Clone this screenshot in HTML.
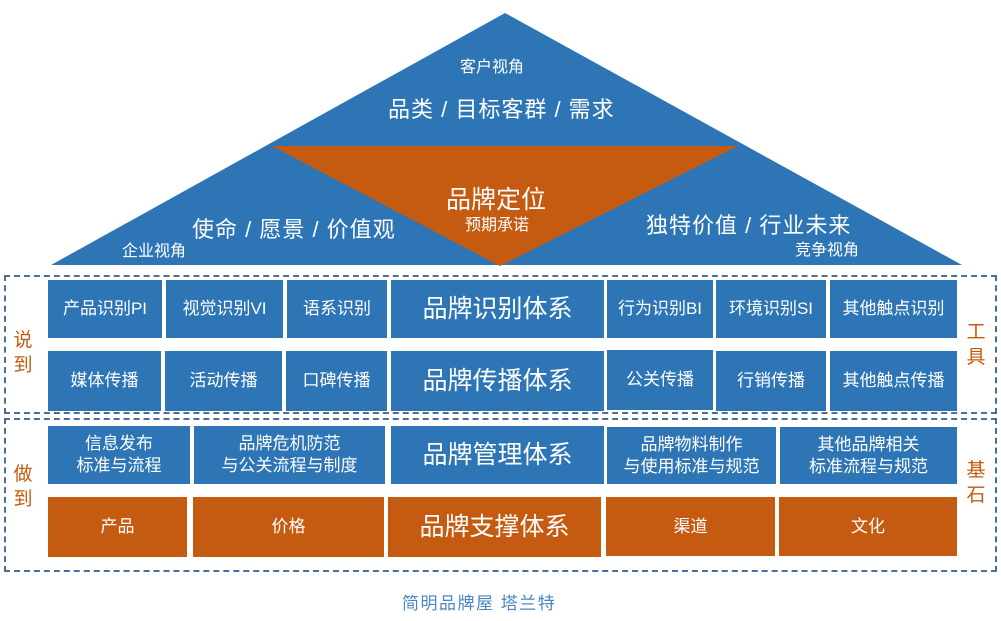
<!DOCTYPE html>
<html><head><meta charset="utf-8"><style>
body{margin:0;width:1001px;height:621px;background:#fff;position:relative;overflow:hidden;font-family:"Liberation Sans","Noto Sans CJK SC",sans-serif}
.b{position:absolute;background:#2e75b6;color:#fff;display:flex;align-items:center;justify-content:center;text-align:center;font-size:17px;line-height:22px}
.o{background:#c55a11}
.big{font-size:25px}
.t{position:absolute;color:#fff;white-space:nowrap}
.side{position:absolute;color:#c55a11;font-size:19px;line-height:25px;width:20px;text-align:center}
.dash{position:absolute;border:2px dashed #4a6f9a;box-sizing:border-box}
</style></head><body>
<svg width="1001" height="280" style="position:absolute;left:0;top:0">
<polygon points="505,13 962,265 51,265" fill="#2e75b6"/>
<polygon points="272,146 738,146 500,266" fill="#c55a11"/>
</svg>
<div class="t" style="left:460px;top:53px;font-size:16px">客户视角</div>
<div class="t" style="left:388px;top:92px;font-size:22px;letter-spacing:1px">品类 / 目标客群 / 需求</div>
<div class="t" style="left:446px;top:180px;font-size:25px">品牌定位</div>
<div class="t" style="left:465px;top:211px;font-size:16px">预期承诺</div>
<div class="t" style="left:192px;top:212px;font-size:22px;letter-spacing:1px">使命 / 愿景 / 价值观</div>
<div class="t" style="left:122px;top:237px;font-size:16px">企业视角</div>
<div class="t" style="left:646px;top:208px;font-size:22px;letter-spacing:1px">独特价值 / 行业未来</div>
<div class="t" style="left:795px;top:236px;font-size:16px">竞争视角</div>

<div class="dash" style="left:4px;top:275px;width:993px;height:139px"></div>
<div class="dash" style="left:4px;top:418px;width:993px;height:154px"></div>

<div class="b" style="left:48px;top:280px;width:114px;height:58px">产品识别PI</div>
<div class="b" style="left:166px;top:280px;width:117px;height:58px">视觉识别VI</div>
<div class="b" style="left:287px;top:280px;width:100px;height:58px">语系识别</div>
<div class="b big" style="left:391px;top:280px;width:213px;height:58px">品牌识别体系</div>
<div class="b" style="left:607px;top:280px;width:106px;height:58px">行为识别BI</div>
<div class="b" style="left:716px;top:280px;width:110px;height:58px">环境识别SI</div>
<div class="b" style="left:830px;top:280px;width:127px;height:58px">其他触点识别</div>

<div class="b" style="left:48px;top:351px;width:113px;height:60px">媒体传播</div>
<div class="b" style="left:165px;top:351px;width:117px;height:60px">活动传播</div>
<div class="b" style="left:286px;top:351px;width:101px;height:60px">口碑传播</div>
<div class="b big" style="left:391px;top:351px;width:213px;height:60px">品牌传播体系</div>
<div class="b" style="left:607px;top:350px;width:106px;height:60px">公关传播</div>
<div class="b" style="left:716px;top:351px;width:110px;height:60px">行销传播</div>
<div class="b" style="left:830px;top:351px;width:127px;height:60px">其他触点传播</div>

<div class="b" style="left:48px;top:426px;width:142px;height:58px">信息发布<br>标准与流程</div>
<div class="b" style="left:194px;top:426px;width:191px;height:58px">品牌危机防范<br>与公关流程与制度</div>
<div class="b big" style="left:391px;top:426px;width:213px;height:58px">品牌管理体系</div>
<div class="b" style="left:607px;top:427px;width:169px;height:57px">品牌物料制作<br>与使用标准与规范</div>
<div class="b" style="left:780px;top:427px;width:177px;height:57px">其他品牌相关<br>标准流程与规范</div>

<div class="b o" style="left:48px;top:497px;width:139px;height:60px">产品</div>
<div class="b o" style="left:193px;top:497px;width:191px;height:60px">价格</div>
<div class="b o big" style="left:388px;top:497px;width:213px;height:60px">品牌支撑体系</div>
<div class="b o" style="left:606px;top:497px;width:169px;height:59px">渠道</div>
<div class="b o" style="left:779px;top:497px;width:178px;height:59px">文化</div>

<div class="side" style="left:13px;top:328px">说<br>到</div>
<div class="side" style="left:966px;top:320px">工<br>具</div>
<div class="side" style="left:13px;top:462px">做<br>到</div>
<div class="side" style="left:966px;top:458px">基<br>石</div>
<div style="position:absolute;left:402px;top:589px;color:#4a86c5;font-size:17px;white-space:nowrap;letter-spacing:1.5px">简明品牌屋 塔兰特</div>
</body></html>
